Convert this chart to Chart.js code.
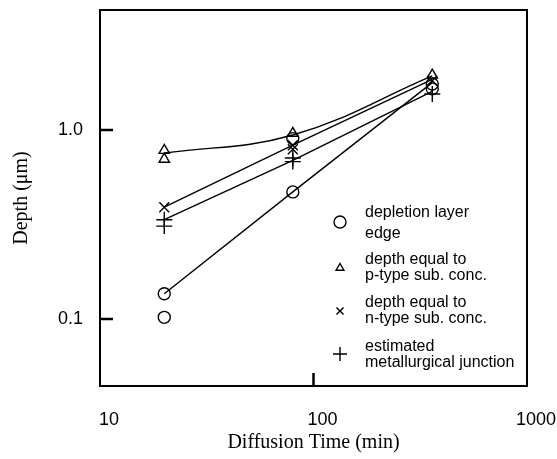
<!DOCTYPE html>
<html>
<head>
<meta charset="utf-8">
<script src="https://cdn.jsdelivr.net/npm/chart.js@4/dist/chart.umd.min.js"></script>
<style>
  html, body { margin: 0; padding: 0; background: #fff; }
  #wrap { width: 557px; height: 459px; position: relative; }
</style>
</head>
<body>
<div id="wrap"><canvas id="c"></canvas></div>
<script>
// Diffusion times (min) at which the trend lines are evaluated
const timesMin = [20, 80, 360];

// Measured depths (µm)
const depletionX = [20, 20, 80, 80, 360, 360];
const depletionY = [0.136, 0.102, 0.47, 0.90, 1.75, 1.65];
const pTypeX = [20, 20, 80, 360];
const pTypeY = [0.78, 0.70, 0.96, 1.95];
const nTypeX = [20, 80, 80, 360];
const nTypeY = [0.39, 0.83, 0.79, 1.82];
const junctionX = [20, 20, 80, 80, 360];
const junctionY = [0.335, 0.31, 0.71, 0.68, 1.55];

// Trend lines through the measurements
const depletionFit = [0.136, 0.47, 1.78];
const pTypeFit = [0.755, 0.94, 1.93];
const nTypeFit = [0.39, 0.83, 1.85];
const junctionFit = [0.335, 0.69, 1.6];

// Axis ticks
const xTicks = [10, 100, 1000];
const yTicks = [0.1, 1];

// Legend entries
const legendStyles = ['circle', 'triangle', 'crossRot', 'cross'];
const legendLines = [
  ['depletion layer', 'edge'],
  ['depth equal to', 'p-type sub. conc.'],
  ['depth equal to', 'n-type sub. conc.'],
  ['estimated', 'metallurgical junction']
];

const pts = (xs, ys) => xs.map((x, i) => ({ x: x, y: ys[i] }));

function markerSet(label, xs, ys, style, r) {
  return {
    type: 'scatter', label: label, data: pts(xs, ys),
    pointStyle: style, pointRadius: r, pointHoverRadius: r,
    pointBorderColor: '#000', pointBackgroundColor: 'rgba(0,0,0,0)',
    pointBorderWidth: 1.4, showLine: false
  };
}
function lineSet(label, ys, tension) {
  return {
    type: 'line', label: label, data: pts(timesMin, ys),
    borderColor: '#000', borderWidth: 1.4, pointRadius: 0,
    tension: tension, fill: false
  };
}

function drawMarker(ctx, style, x, y, r) {
  ctx.save();
  ctx.strokeStyle = '#000';
  ctx.lineWidth = 1.4;
  ctx.beginPath();
  if (style === 'circle') {
    ctx.arc(x, y, r, 0, Math.PI * 2);
  } else if (style === 'triangle') {
    const h = r * 1.5, w = r * Math.sqrt(3);
    ctx.moveTo(x, y - r);
    ctx.lineTo(x + w / 2, y - r + h);
    ctx.lineTo(x - w / 2, y - r + h);
    ctx.closePath();
  } else if (style === 'crossRot') {
    const d = r * Math.SQRT1_2;
    ctx.moveTo(x - d, y - d); ctx.lineTo(x + d, y + d);
    ctx.moveTo(x + d, y - d); ctx.lineTo(x - d, y + d);
  } else {
    ctx.moveTo(x - r, y); ctx.lineTo(x + r, y);
    ctx.moveTo(x, y - r); ctx.lineTo(x, y + r);
  }
  ctx.stroke();
  ctx.restore();
}

// Frame, inward tick marks and the in-plot legend
const decorations = {
  id: 'decorations',
  afterDraw(chart) {
    const ctx = chart.ctx;
    const a = chart.chartArea;
    const xs = chart.scales.x, ys = chart.scales.y;
    ctx.save();
    ctx.strokeStyle = '#000';
    ctx.lineWidth = 2;
    ctx.strokeRect(a.left, a.top, a.right - a.left, a.bottom - a.top);
    ctx.lineWidth = 2.5;
    ctx.beginPath();
    const px = xs.getPixelForValue(100);
    ctx.moveTo(px, a.bottom); ctx.lineTo(px, a.bottom - 13);
    yTicks.forEach(v => {
      const py = ys.getPixelForValue(v);
      ctx.moveTo(a.left, py); ctx.lineTo(a.left + 13, py);
    });
    ctx.stroke();

    const sizes = [6, 4.5, 5, 7];
    const symY = [222, 268, 311, 354];
    const textY = [[213, 234], [260, 276], [303, 319], [347, 363]];
    ctx.fillStyle = '#000';
    ctx.font = '16px "Liberation Sans", Arial, sans-serif';
    ctx.textBaseline = 'middle';
    ctx.textAlign = 'left';
    legendStyles.forEach((s, i) => {
      drawMarker(ctx, s, 340, symY[i], sizes[i]);
      ctx.fillText(legendLines[i][0], 365, textY[i][0]);
      ctx.fillText(legendLines[i][1], 365, textY[i][1]);
    });
    ctx.restore();
  }
};

new Chart(document.getElementById('c'), {
  data: {
    datasets: [
      lineSet('depletion layer edge fit', depletionFit, 0),
      lineSet('p-type fit', pTypeFit, 0.4),
      lineSet('n-type fit', nTypeFit, 0),
      lineSet('junction fit', junctionFit, 0),
      markerSet('depletion layer edge', depletionX, depletionY, 'circle', 6),
      markerSet('depth equal to p-type sub. conc.', pTypeX, pTypeY, 'triangle', 6),
      markerSet('depth equal to n-type sub. conc.', nTypeX, nTypeY, 'crossRot', 7),
      markerSet('estimated metallurgical junction', junctionX, junctionY, 'cross', 8)
    ]
  },
  options: {
    responsive: true,
    maintainAspectRatio: false,
    animation: false,
    layout: { padding: { top: 10, right: 30, left: 0, bottom: 0 } },
    plugins: { legend: { display: false }, tooltip: { enabled: false } },
    scales: {
      x: {
        type: 'logarithmic', min: 10, max: 1000, bounds: 'data',
        grid: { display: false, drawTicks: false },
        border: { display: false },
        afterBuildTicks: s => { s.ticks = xTicks.map(v => ({ value: v })); },
        afterFit: s => { s.height = 73; s.paddingLeft = 0; s.paddingRight = 0; s.paddingTop = 0; s.paddingBottom = 0; },
        ticks: {
          autoSkip: false, maxRotation: 0, padding: 23, labelOffset: 9,
          color: '#000',
          font: { family: '"Liberation Sans", Arial, sans-serif', size: 18 },
          callback: v => String(v)
        },
        title: {
          display: true, text: 'Diffusion Time (min)', color: '#000',
          font: { family: '"Liberation Serif", "Times New Roman", serif', size: 20 },
          padding: { top: 0, bottom: 4 }
        }
      },
      y: {
        type: 'logarithmic', min: 0.0442, max: 4.31, bounds: 'data',
        grid: { display: false, drawTicks: false },
        border: { display: false },
        afterBuildTicks: s => { s.ticks = yTicks.map(v => ({ value: v })); },
        afterFit: s => { s.width = 100; s.paddingLeft = 0; s.paddingRight = 0; s.paddingTop = 0; s.paddingBottom = 0; },
        ticks: {
          autoSkip: false, padding: 17, color: '#000',
          font: { family: '"Liberation Sans", Arial, sans-serif', size: 18 },
          callback: v => (v === 1 ? '1.0' : String(v))
        },
        title: {
          display: true, text: 'Depth (\u03BCm)', color: '#000',
          font: { family: '"Liberation Serif", "Times New Roman", serif', size: 20 },
          padding: { top: 10, bottom: 0 }
        }
      }
    }
  },
  plugins: [decorations]
});
</script>
</body>
</html>
